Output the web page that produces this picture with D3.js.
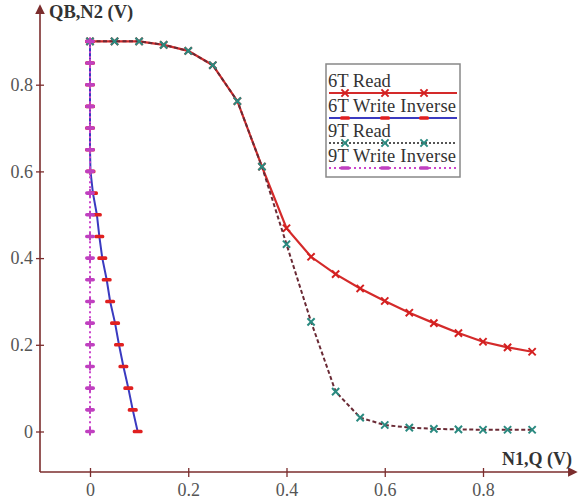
<!DOCTYPE html>
<html>
<head>
<meta charset="utf-8" />
<title>Butterfly curves</title>
<script src="https://cdn.jsdelivr.net/npm/d3@7"></script>
<style>
  body { margin: 0; background: #fff; }
  svg text { font-family: "Liberation Serif", "Times New Roman", serif; }
</style>
</head>
<body>
<div id="chart"></div>
<script>
// read curves, sampled along N1,Q
var readX   = [0, 0.05, 0.1, 0.15, 0.2, 0.25, 0.3, 0.35, 0.4, 0.45, 0.5, 0.55, 0.6, 0.65, 0.7, 0.75, 0.8, 0.85, 0.9];
var read6T  = [0.9, 0.9, 0.9, 0.892, 0.878, 0.845, 0.762, 0.611, 0.469, 0.403, 0.363, 0.330, 0.301, 0.274, 0.250, 0.227, 0.207, 0.194, 0.184];
var read9T  = [0.9, 0.9, 0.9, 0.892, 0.878, 0.845, 0.762, 0.611, 0.432, 0.253, 0.092, 0.032, 0.015, 0.009, 0.006, 0.005, 0.004, 0.004, 0.004];
// write inverse curves, sampled along QB,N2
var writeY  = [0.9, 0.85, 0.8, 0.75, 0.7, 0.65, 0.6, 0.55, 0.5, 0.45, 0.4, 0.35, 0.3, 0.25, 0.2, 0.15, 0.1, 0.05, 0];
var write6T = [0, 0, 0, 0, 0, 0, 0.001, 0.006, 0.014, 0.019, 0.025, 0.034, 0.041, 0.051, 0.059, 0.068, 0.078, 0.087, 0.097];
var write9T = [0, 0, 0, 0, 0, 0, 0, 0, 0, 0, 0, 0, 0, 0, 0, 0, 0, 0, 0];

var xTicks = [0, 0.2, 0.4, 0.6, 0.8];
var yTicks = [0, 0.2, 0.4, 0.6, 0.8];
var legendLabels = ["6T Read", "6T Write Inverse", "9T Read", "9T Write Inverse"];

var width = 578, height = 501;
var axisColor = "#7b2d2d";

var x = d3.scaleLinear().domain([0, 0.8]).range([90, 483]);
var y = d3.scaleLinear().domain([0, 0.8]).range([431.5, 84.7]);
var axisX = 40, axisY = 472;

var svg = d3.select("#chart").append("svg")
    .attr("width", width)
    .attr("height", height);

var defs = svg.append("defs");
defs.append("marker")
    .attr("id", "arrow")
    .attr("viewBox", "0 0 10 10")
    .attr("refX", 2).attr("refY", 5)
    .attr("markerWidth", 6).attr("markerHeight", 6)
    .attr("orient", "auto")
  .append("path")
    .attr("d", "M0,0L10,5L0,10z")
    .attr("fill", axisColor);

// axes lines with arrows
svg.append("line")
    .attr("x1", axisX).attr("y1", axisY)
    .attr("x2", 570).attr("y2", axisY)
    .attr("stroke", axisColor).attr("stroke-width", 1.6)
    .attr("marker-end", "url(#arrow)");
svg.append("line")
    .attr("x1", axisX).attr("y1", axisY)
    .attr("x2", axisX).attr("y2", 12)
    .attr("stroke", axisColor).attr("stroke-width", 1.6)
    .attr("marker-end", "url(#arrow)");

var gx = svg.append("g")
    .attr("transform", "translate(0," + axisY + ")")
    .call(d3.axisBottom(x).tickValues(xTicks).tickSize(5).tickFormat(d3.format("")));
gx.select(".domain").remove();
gx.selectAll(".tick line").attr("y1", -4).attr("y2", 5).attr("stroke", axisColor).attr("stroke-width", 1.3);
gx.selectAll(".tick text").attr("y", 11).attr("dy", "0.71em")
    .attr("font-size", 18).attr("fill", "#555").attr("font-family", "Liberation Serif");

var gy = svg.append("g")
    .attr("transform", "translate(" + axisX + ",0)")
    .call(d3.axisLeft(y).tickValues(yTicks).tickSize(4).tickFormat(d3.format("")));
gy.select(".domain").remove();
gy.selectAll(".tick line").attr("x1", -4).attr("x2", 4).attr("stroke", axisColor).attr("stroke-width", 1.3);
gy.selectAll(".tick text").attr("x", -7)
    .attr("font-size", 18).attr("fill", "#555").attr("font-family", "Liberation Serif");

svg.append("text")
    .attr("x", 49).attr("y", 18)
    .attr("font-size", 18.5).attr("font-weight", "bold").attr("fill", "#333")
    .text("QB,N2 (V)");
svg.append("text")
    .attr("x", 572).attr("y", 465)
    .attr("text-anchor", "end")
    .attr("font-size", 18).attr("font-weight", "bold").attr("fill", "#333")
    .text("N1,Q (V)");

// marker drawers
function crossMark(g, cx, cy, color) {
    var s = 3.6;
    g.append("path")
        .attr("d", "M" + (cx - s) + "," + (cy - s) + "L" + (cx + s) + "," + (cy + s) +
                   "M" + (cx - s) + "," + (cy + s) + "L" + (cx + s) + "," + (cy - s))
        .attr("stroke", color).attr("stroke-width", 2).attr("fill", "none");
}
function barMark(g, cx, cy, color) {
    g.append("rect")
        .attr("x", cx - 5).attr("y", cy - 1.8)
        .attr("width", 10).attr("height", 3.6).attr("rx", 1.5)
        .attr("fill", color);
}
function plusMark(g, cx, cy, color) {
    g.append("rect")
        .attr("x", cx - 5).attr("y", cy - 1.8)
        .attr("width", 10).attr("height", 3.6).attr("rx", 1.8)
        .attr("fill", color);
    g.append("rect")
        .attr("x", cx - 1).attr("y", cy - 4)
        .attr("width", 2).attr("height", 8)
        .attr("fill", color);
}

var readLine = d3.line()
    .x(function (d) { return x(d[0]); })
    .y(function (d) { return y(d[1]); });

var pts6R = readX.map(function (v, i) { return [v, read6T[i]]; });
var pts9R = readX.map(function (v, i) { return [v, read9T[i]]; });
var pts6W = writeY.map(function (v, i) { return [write6T[i], v]; });
var pts9W = writeY.map(function (v, i) { return [write9T[i], v]; });

// 6T Read
svg.append("path").datum(pts6R)
    .attr("d", readLine).attr("fill", "none")
    .attr("stroke", "#d42a2a").attr("stroke-width", 2.2);
var m6R = svg.append("g");
pts6R.forEach(function (p) { crossMark(m6R, x(p[0]), y(p[1]), "#d42020"); });

// 6T Write Inverse
svg.append("path").datum(pts6W)
    .attr("d", readLine).attr("fill", "none")
    .attr("stroke", "#3a3ac0").attr("stroke-width", 2);
var m6W = svg.append("g");
pts6W.forEach(function (p) { barMark(m6W, x(p[0]), y(p[1]), "#e02020"); });

// 9T Read
svg.append("path").datum(pts9R)
    .attr("d", readLine).attr("fill", "none")
    .attr("stroke", "#6a2a35").attr("stroke-width", 2)
    .attr("stroke-dasharray", "4,2.5");
var m9R = svg.append("g");
pts9R.forEach(function (p) { crossMark(m9R, x(p[0]), y(p[1]), "#2a8a80"); });

// 9T Write Inverse
svg.append("path").datum(pts9W)
    .attr("d", readLine).attr("fill", "none")
    .attr("stroke", "#cc44cc").attr("stroke-width", 2)
    .attr("stroke-dasharray", "2,3");
var m9W = svg.append("g");
pts9W.forEach(function (p) { plusMark(m9W, x(p[0]), y(p[1]), "#c040c0"); });

// legend
var legend = svg.append("g");
legend.append("rect")
    .attr("x", 326).attr("y", 64)
    .attr("width", 134).attr("height", 113)
    .attr("fill", "#fff").attr("stroke", "#888").attr("stroke-width", 1.5);

var legendStyles = [
    { stroke: "#d42a2a", dash: null, mark: crossMark, markColor: "#d42020" },
    { stroke: "#3a3ac0", dash: null, mark: barMark, markColor: "#e02020" },
    { stroke: "#555", dash: "2,2", mark: crossMark, markColor: "#2a8a80" },
    { stroke: "#cc44cc", dash: "2,3", mark: barMark, markColor: "#c040c0" }
];
legendLabels.forEach(function (label, i) {
    var st = legendStyles[i];
    var base = 87 + i * 25;
    legend.append("text")
        .attr("x", 328).attr("y", base)
        .attr("font-size", 18.5).attr("fill", "#333")
        .attr("textLength", label.length > 8 ? 128 : null)
        .text(label);
    legend.append("line")
        .attr("x1", 329).attr("x2", 457)
        .attr("y1", base + 6).attr("y2", base + 6)
        .attr("stroke", st.stroke).attr("stroke-width", 2)
        .attr("stroke-dasharray", st.dash);
    [345, 385, 424].forEach(function (mx) { st.mark(legend, mx, base + 6, st.markColor); });
});
</script>
</body>
</html>
